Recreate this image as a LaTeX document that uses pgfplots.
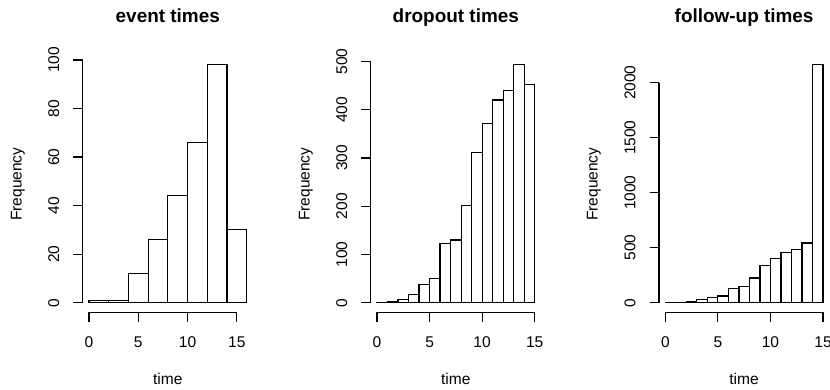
\documentclass[border=0pt]{standalone}
\usepackage{fontspec}
\setmainfont{Liberation Sans}
\usepackage{pgfplots}
\pgfplotsset{compat=1.18}
\pgfplotsset{
  rhist/.style={
    scale only axis, width=170.3bp, height=256.9bp,
    axis x line*=bottom, axis y line*=left,
    axis line style={draw=none},
    tick align=outside, major tick length=9.3bp,
    tick style={black, line width=1.2bp},
    xtick={0,5,10,15},
    ticklabel style={font=\fontsize{15.6}{18}\selectfont},
    /pgf/number format/assume math mode=true,
    /pgf/number format/set thousands separator={},
    scaled y ticks=false,
    yticklabel style={xshift=-14.4bp, rotate=90, anchor=base},
    xticklabel style={anchor=base, yshift=-25.5bp},
    clip=false,
  },
  rbar/.style={ybar interval, fill=white, draw=black, line width=1.2bp},
}
\begin{document}
\begin{tikzpicture}[x=1bp,y=1bp]
\useasboundingbox (0,0) rectangle (830,389);
% panel 1
\begin{axis}[rhist, at={(82.7bp,76.8bp)}, xmin=-0.64, xmax=16.64, ymin=-3.92, ymax=101.92,
  ytick={0,20,40,60,80,100}]
\addplot[rbar] coordinates {(0,1) (2,1) (4,12) (6,26) (8,44) (10,66) (12,98) (14,30) (16,30)};
\draw[line width=1.2bp] (axis cs:0,-3.92) -- (axis cs:15,-3.92);
\draw[line width=1.2bp] (axis cs:-0.64,0) -- (axis cs:-0.64,100);
\end{axis}
% panel 2
\begin{axis}[rhist, at={(370.7bp,76.8bp)}, xmin=-0.6, xmax=15.6, ymin=-19.72, ymax=512.72,
  ytick={0,100,200,300,400,500}]
\addplot[rbar] coordinates {(0,1) (1,3) (2,7) (3,17) (4,37) (5,50) (6,122) (7,130) (8,202) (9,312) (10,371) (11,420) (12,439) (13,493) (14,453) (15,453)};
\draw[line width=1.2bp] (axis cs:0,-19.72) -- (axis cs:15,-19.72);
\draw[line width=1.2bp] (axis cs:-0.6,0) -- (axis cs:-0.6,500);
\end{axis}
% panel 3
\begin{axis}[rhist, at={(659.0bp,76.8bp)}, xmin=-0.6, xmax=15.6, ymin=-86.48, ymax=2248.48,
  ytick={0,500,1000,1500,2000}]
\addplot[rbar] coordinates {(0,3) (1,3) (2,12) (3,27) (4,45) (5,60) (6,132) (7,150) (8,225) (9,336) (10,405) (11,453) (12,486) (13,543) (14,2162) (15,2162)};
\draw[line width=1.2bp] (axis cs:0,-86.48) -- (axis cs:15,-86.48);
\draw[line width=1.2bp] (axis cs:-0.6,0) -- (axis cs:-0.6,2000);
\end{axis}
% titles and labels
\foreach \cx/\fx/\t in {167.8/21.5/event times, 455.8/309.5/dropout times, 744.1/597.5/follow-up times}{
  \node[anchor=base, font=\fontsize{19}{22}\selectfont\bfseries, inner sep=0] at (\cx,366.3) {\t};
  \node[anchor=base, font=\fontsize{15.6}{18}\selectfont, inner sep=0] at (\cx,5) {time};
  \node[anchor=base, rotate=90, font=\fontsize{15.6}{18}\selectfont, inner sep=0] at (\fx,204.8) {Frequency};
}
\end{tikzpicture}
\end{document}
